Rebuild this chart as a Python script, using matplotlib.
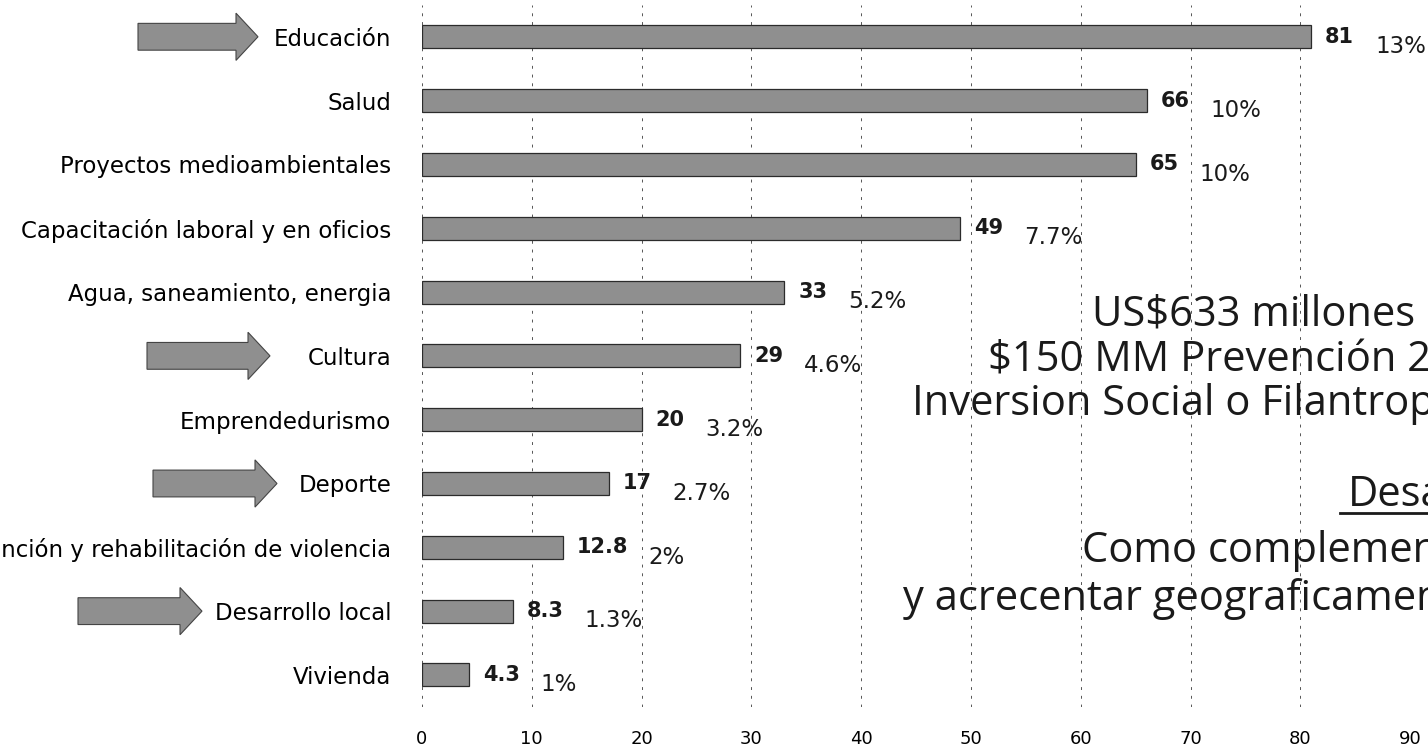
import matplotlib.pyplot as plt
import matplotlib.patches as mpatches
import matplotlib.transforms as mtransforms
from matplotlib.lines import Line2D

# Datos
categorias = ["Educación", "Salud", "Proyectos medioambientales",
              "Capacitación laboral y en oficios", "Agua, saneamiento, energia",
              "Cultura", "Emprendedurismo", "Deporte",
              "Prevención y rehabilitación de violencia", "Desarrollo local", "Vivienda"]
valores = [81, 66, 65, 49, 33, 29, 20, 17, 12.8, 8.3, 4.3]
etiquetas_valor = ["81", "66", "65", "49", "33", "29", "20", "17", "12.8", "8.3", "4.3"]
porcentajes = ["13%", "10%", "10%", "7.7%", "5.2%", "4.6%", "3.2%", "2.7%", "2%", "1.3%", "1%"]
marcadas = ["Educación", "Cultura", "Deporte", "Desarrollo local"]
ticks_x = [0, 10, 20, 30, 40, 50, 60, 70, 80, 90]

texto_derecha = ["US$633 millones", "$150 MM Prevención 2012",
                 "Inversion Social o Filantropía", "Desarrollo",
                 "Como complemento", "y acrecentar geograficamente"]

gris = '#8f8f8f'

fig = plt.figure(figsize=(14.28, 7.48), dpi=100)
ax = fig.add_axes([0.2955, 0.055, 0.692, 0.9385])

y = list(range(len(categorias)))
ax.barh(y, valores, height=0.36, color=gris, edgecolor='#2b2b2b', linewidth=0.9, zorder=2)

ax.set_xlim(0, 90)
ax.set_ylim(len(categorias) - 0.5, -0.5)
ax.set_yticks(y)
ax.set_yticklabels(categorias, fontsize=16.5, family='DejaVu Sans')
ax.set_xticks(ticks_x)
ax.set_xticklabels([str(t) for t in ticks_x], fontsize=13)
ax.tick_params(axis='y', length=0, pad=22)
ax.tick_params(axis='x', length=0, pad=17)
for s in ax.spines.values():
    s.set_visible(False)

# lineas verticales punteadas
ax.xaxis.grid(True, color='#555555', linestyle=(0, (3, 6)), linewidth=0.7, zorder=0)
ax.set_axisbelow(True)

# etiquetas de valor y porcentaje
for i, (v, ev, p) in enumerate(zip(valores, etiquetas_valor, porcentajes)):
    t = ax.annotate(ev, xy=(v, i), xytext=(10, 0), textcoords='offset points',
                    va='center', ha='left', fontsize=15, fontweight='bold', color='#1a1a1a')
    ax.annotate(p, xy=(1, 0.5), xycoords=t, xytext=(15, -7), textcoords='offset points',
                va='center', ha='left', fontsize=16.5, color='#1a1a1a',
                annotation_clip=False)

# flechas grises
flechas = {"Educación": (138, 258), "Cultura": (147, 270),
           "Deporte": (153, 277), "Desarrollo local": (78, 202)}
trans = mtransforms.blended_transform_factory(fig.transFigure, ax.transData)
W = 1428.0
for cat in marcadas:
    i = categorias.index(cat)
    x0, x1 = flechas[cat]
    arr = mpatches.FancyArrow(x0 / W, i, (x1 - x0) / W, 0, width=0.42, head_width=0.74,
                              head_length=22 / W, length_includes_head=True,
                              transform=trans, facecolor=gris, edgecolor='#444444',
                              linewidth=0.8, clip_on=False)
    fig.add_artist(arr)

# texto de la derecha
H = 748.0
posiciones = [(1092, 326), (988, 371), (912, 415), (1348, 506), (1082, 562), (903, 610)]
for txt, (px, py) in zip(texto_derecha, posiciones):
    fig.text(px / W, 1 - py / H, txt, fontsize=30, family='Open Sans',
             color='#1a1a1a', ha='left', va='baseline')

# subrayado de "Desarrollo"
fig.add_artist(Line2D([1340 / W, 1.0], [1 - 513 / H, 1 - 513 / H],
                      transform=fig.transFigure, color='#1a1a1a', linewidth=2))

plt.savefig("out.png", dpi=100)
